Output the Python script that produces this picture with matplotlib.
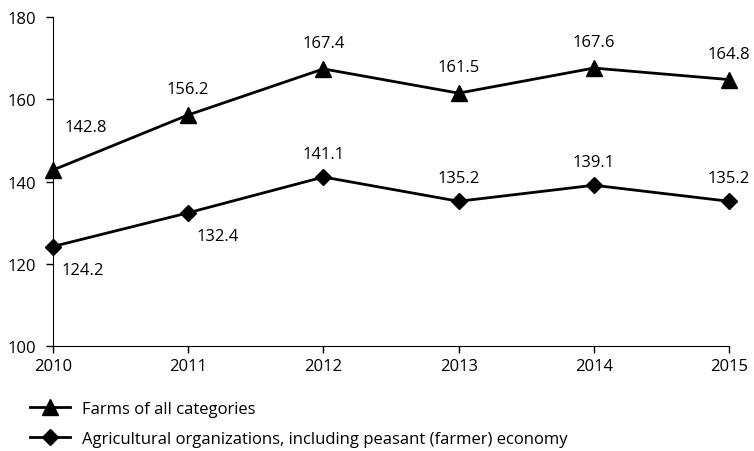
import matplotlib.pyplot as plt

plt.rcParams['font.family'] = ['Open Sans', 'DejaVu Sans']

years = [2010, 2011, 2012, 2013, 2014, 2015]
farms_all = [142.8, 156.2, 167.4, 161.5, 167.6, 164.8]
agri_orgs = [124.2, 132.4, 141.1, 135.2, 139.1, 135.2]

farms_label = 'Farms of all categories'
agri_label = 'Agricultural organizations, including peasant (farmer) economy'

fig = plt.figure(figsize=(7.54, 4.52), dpi=100)
ax = fig.add_axes([0.0703, 0.2323, 0.8966, 0.7277])

l1, = ax.plot(years, farms_all, color='black', lw=2, marker='^', ms=12, clip_on=False)
l2, = ax.plot(years, agri_orgs, color='black', lw=2, marker='D', ms=8, clip_on=False)

fs = 12

# value labels
for i, (x, y) in enumerate(zip(years, farms_all)):
    if i == 0:
        ax.annotate(f'{y:.1f}', (x, y), xytext=(8, 31), textcoords='offset points',
                    ha='left', va='center', fontsize=fs)
    else:
        ax.annotate(f'{y:.1f}', (x, y), xytext=(0, 13), textcoords='offset points',
                    ha='center', va='bottom', fontsize=fs)
for i, (x, y) in enumerate(zip(years, agri_orgs)):
    if i < 2:
        ax.annotate(f'{y:.1f}', (x, y), xytext=(6, -17), textcoords='offset points',
                    ha='left', va='center', fontsize=fs)
    else:
        ax.annotate(f'{y:.1f}', (x, y), xytext=(0, 11), textcoords='offset points',
                    ha='center', va='bottom', fontsize=fs)

ax.set_xlim(2010, 2015)
ax.set_ylim(100, 180)
ax.set_xticks(years)
ax.set_yticks([100, 120, 140, 160, 180])
ax.tick_params(labelsize=fs, length=5, width=1, color='black')
ax.tick_params(axis='y', pad=7)
ax.spines['top'].set_visible(False)
ax.spines['right'].set_visible(False)

fig.legend([l1, l2], [farms_label, agri_label], loc='lower left',
           bbox_to_anchor=(0.02, -0.025), frameon=False, fontsize=fs,
           handlelength=2.4, handletextpad=0.7, labelspacing=0.85)

fig.savefig('out.png', dpi=100)
